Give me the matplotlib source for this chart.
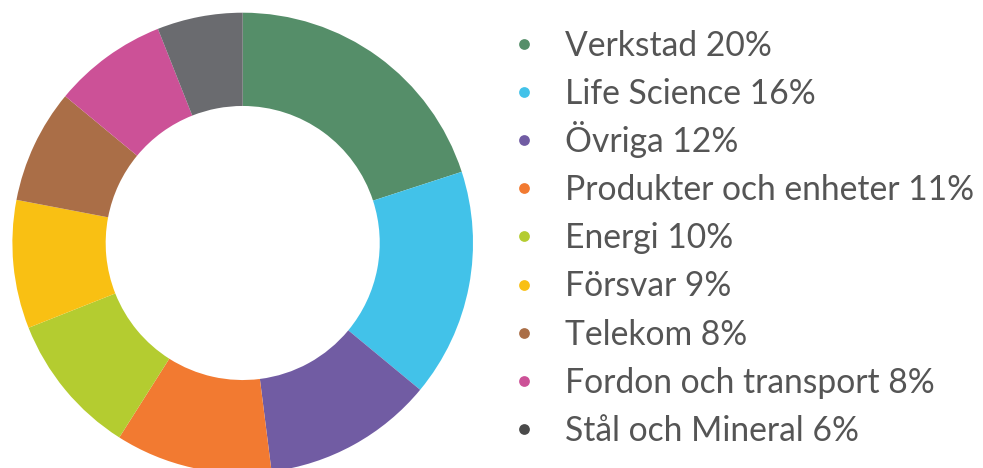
import matplotlib.pyplot as plt

categories = [
    "Verkstad",
    "Life Science",
    "Övriga",
    "Produkter och enheter",
    "Energi",
    "Försvar",
    "Telekom",
    "Fordon och transport",
    "Stål och Mineral",
]
shares = [20, 16, 12, 11, 10, 9, 8, 8, 6]
colors = ["#558e69", "#42c2e9", "#715ca3", "#f27a31", "#b4cc30",
          "#f9c013", "#aa6e47", "#cc5197", "#6a6b6f"]
# the legend dot for the last item is darker than its wedge
legend_colors = colors[:-1] + ["#4a4a4a"]

plt.rcParams["font.family"] = ["Lato", "DejaVu Sans"]

fig = plt.figure(figsize=(9.83, 4.68), dpi=100)

# donut, centre ~ (243, 243) px, radius ~230 px
r = 230.3
cx, cy = 242.7, 468 - 243
ax = fig.add_axes([(cx - r) / 983, (cy - r) / 468, 2 * r / 983, 2 * r / 468])
ax.pie(shares, colors=colors, startangle=90, counterclock=False,
       wedgeprops=dict(width=0.405, linewidth=0))
ax.set_xlim(-1, 1)
ax.set_ylim(-1, 1)
ax.axis("off")

# legend drawn by hand in pixel coords so rows are evenly spaced
lax = fig.add_axes([0, 0, 1, 1])
lax.set_xlim(0, 983)
lax.set_ylim(468, 0)
lax.axis("off")
for i, (name, val) in enumerate(zip(categories, shares)):
    y = 44 + i * 48.1
    lax.scatter(524, y, s=60, color=legend_colors[i], linewidths=0)
    lax.text(565, y + 12, f"{name} {val}%", fontsize=24.2,
             color="#555555", va="baseline", ha="left")

fig.savefig("out.png", dpi=100)
